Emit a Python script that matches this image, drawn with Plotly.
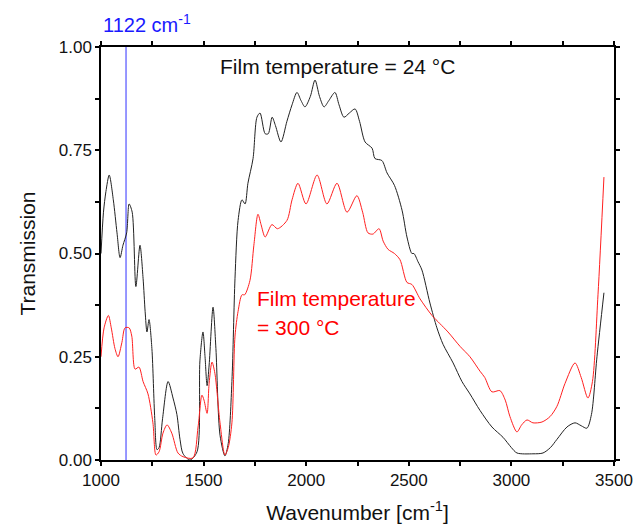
import plotly.graph_objects as go

# ---- data ----
wn_24 = [1000, 1012, 1024, 1040, 1060, 1078, 1093, 1107, 1125, 1137, 1152, 1170, 1190, 1205,
         1215, 1224, 1234, 1248, 1262, 1273, 1283, 1300, 1327, 1351, 1370, 1385, 1400, 1434,
         1468, 1482, 1497, 1507, 1517, 1527, 1546, 1560, 1580, 1604, 1620, 1638, 1653, 1668,
         1687, 1702, 1716, 1741, 1760, 1775, 1800, 1815, 1834, 1850, 1877, 1906, 1931, 1955,
         1975, 1994, 2020, 2043, 2065, 2087, 2110, 2140, 2160, 2184, 2210, 2238, 2260, 2287,
         2321, 2335, 2369, 2394, 2430, 2467, 2491, 2515, 2525, 2545, 2564, 2603, 2637, 2667,
         2716, 2759, 2798, 2847, 2905, 2959, 3000, 3027, 3105, 3154, 3190, 3222, 3271, 3310,
         3340, 3368, 3390, 3417, 3451]
tr_24 = [0.50, 0.60, 0.65, 0.69, 0.63, 0.55, 0.49, 0.52, 0.55, 0.62, 0.60, 0.42, 0.52, 0.44,
         0.36, 0.31, 0.34, 0.27, 0.10, 0.025, 0.03, 0.10, 0.19, 0.15, 0.11, 0.05, 0.015, 0.0,
         0.02, 0.24, 0.31, 0.25, 0.18, 0.23, 0.37, 0.27, 0.06, 0.01, 0.04, 0.19, 0.44, 0.58,
         0.63, 0.62, 0.67, 0.73, 0.83, 0.84, 0.79, 0.79, 0.83, 0.81, 0.77, 0.82, 0.86, 0.89,
         0.87, 0.855, 0.88, 0.92, 0.88, 0.855, 0.87, 0.89, 0.86, 0.83, 0.84, 0.85, 0.82, 0.77,
         0.755, 0.73, 0.725, 0.695, 0.665, 0.605, 0.54, 0.50, 0.50, 0.48, 0.46, 0.38, 0.32, 0.28,
         0.235, 0.19, 0.16, 0.12, 0.08, 0.055, 0.03, 0.017, 0.015, 0.017, 0.03, 0.05, 0.08, 0.09,
         0.083, 0.077, 0.11, 0.25, 0.405]

wn_300 = [1000, 1015, 1036, 1050, 1068, 1083, 1102, 1117, 1137, 1150, 1166, 1185, 1205, 1229,
          1253, 1268, 1283, 1302, 1322, 1345, 1375, 1400, 1448, 1473, 1492, 1502, 1517, 1527,
          1541, 1555, 1580, 1604, 1620, 1638, 1653, 1668, 1687, 1700, 1726, 1745, 1765, 1780,
          1800, 1833, 1860, 1906, 1931, 1960, 1999, 2053, 2101, 2150, 2199, 2247, 2275, 2301,
          2325, 2355, 2375, 2399, 2430, 2457, 2491, 2515, 2555, 2613, 2652, 2691, 2750, 2798,
          2847, 2870, 2905, 2944, 2970, 2993, 3027, 3050, 3076, 3105, 3149, 3188, 3222, 3261,
          3310, 3340, 3373, 3395, 3422, 3451]
tr_300 = [0.25, 0.32, 0.35, 0.32, 0.27, 0.25, 0.285, 0.32, 0.32, 0.30, 0.22, 0.225, 0.19, 0.16,
          0.09, 0.012, 0.02, 0.065, 0.085, 0.065, 0.017, 0.008, 0.005, 0.08, 0.157, 0.145, 0.113, 0.186,
          0.237, 0.21, 0.09, 0.012, 0.03, 0.09, 0.30, 0.36, 0.40, 0.40, 0.435, 0.52, 0.595, 0.57,
          0.54, 0.57, 0.56, 0.58, 0.63, 0.67, 0.62, 0.69, 0.62, 0.67, 0.60, 0.64, 0.60, 0.55,
          0.547, 0.56, 0.53, 0.51, 0.50, 0.485, 0.43, 0.425, 0.39, 0.35, 0.33, 0.31, 0.275, 0.25,
          0.215, 0.20, 0.165, 0.168, 0.145, 0.105, 0.068, 0.085, 0.097, 0.09, 0.092, 0.105, 0.13, 0.185,
          0.235, 0.20, 0.15, 0.19, 0.40, 0.685]

marker_wn = 1122

x_tickvals = [1000, 1250, 1500, 1750, 2000, 2250, 2500, 2750, 3000, 3250, 3500]
x_ticktext = ["1000", "", "1500", "", "2000", "", "2500", "", "3000", "", "3500"]
y_tickvals = [0, 0.125, 0.25, 0.375, 0.5, 0.625, 0.75, 0.875, 1.0]
y_ticktext = ["0.00", "", "0.25", "", "0.50", "", "0.75", "", "1.00"]

FONT = "Liberation Sans, Arial, sans-serif"

fig = go.Figure()
fig.add_trace(go.Scatter(x=[marker_wn, marker_wn], y=[0, 1], mode="lines",
                         line=dict(color="#3030ff", width=1), hoverinfo="skip"))
fig.add_trace(go.Scatter(x=wn_24, y=tr_24, mode="lines",
                         line=dict(color="#222222", width=1, shape="spline", smoothing=0.8)))
fig.add_trace(go.Scatter(x=wn_300, y=tr_300, mode="lines",
                         line=dict(color="#ff2020", width=1, shape="spline", smoothing=0.8)))

axis_common = dict(showgrid=False, zeroline=False, showline=True, linecolor="black",
                   linewidth=1.5, mirror="ticks", ticks="outside", ticklen=4, tickwidth=1.5,
                   tickcolor="black", automargin=False,
                   tickfont=dict(family=FONT, size=17, color="#111"))

fig.update_xaxes(range=[1000, 3500], tickvals=x_tickvals, ticktext=x_ticktext,
                 title=dict(text="Wavenumber [cm<sup>-1</sup>]", standoff=16,
                            font=dict(family=FONT, size=21, color="#111")),
                 **axis_common)
fig.update_yaxes(range=[0, 1], tickvals=y_tickvals, ticktext=y_ticktext,
                 title=dict(text="Transmission", standoff=17,
                            font=dict(family=FONT, size=21, color="#111")),
                 **axis_common)

fig.add_annotation(xref="paper", yref="paper", x=0.0, y=1.058, xanchor="left", yanchor="middle",
                   text="1122 cm<sup>-1</sup>", showarrow=False,
                   font=dict(family=FONT, size=20, color="#1a1aff"))
fig.add_annotation(xref="paper", yref="paper", x=0.228, y=0.952, xanchor="left", yanchor="middle",
                   text="Film temperature = 24 °C", showarrow=False,
                   font=dict(family=FONT, size=21, color="#111"))
fig.add_annotation(xref="paper", yref="paper", x=0.300, y=0.392, xanchor="left", yanchor="middle",
                   text="Film temperature", showarrow=False,
                   font=dict(family=FONT, size=21, color="#ff0000"))
fig.add_annotation(xref="paper", yref="paper", x=0.300, y=0.322, xanchor="left", yanchor="middle",
                   text="= 300 °C", showarrow=False,
                   font=dict(family=FONT, size=21, color="#ff0000"))

# page body adds an ~8px margin at left/top, so the figure is sized/offset to compensate
fig.update_layout(width=636, height=522, showlegend=False,
                  plot_bgcolor="white", paper_bgcolor="white",
                  margin=dict(l=93, r=30, t=39, b=70))

fig.write_html("out.html")
